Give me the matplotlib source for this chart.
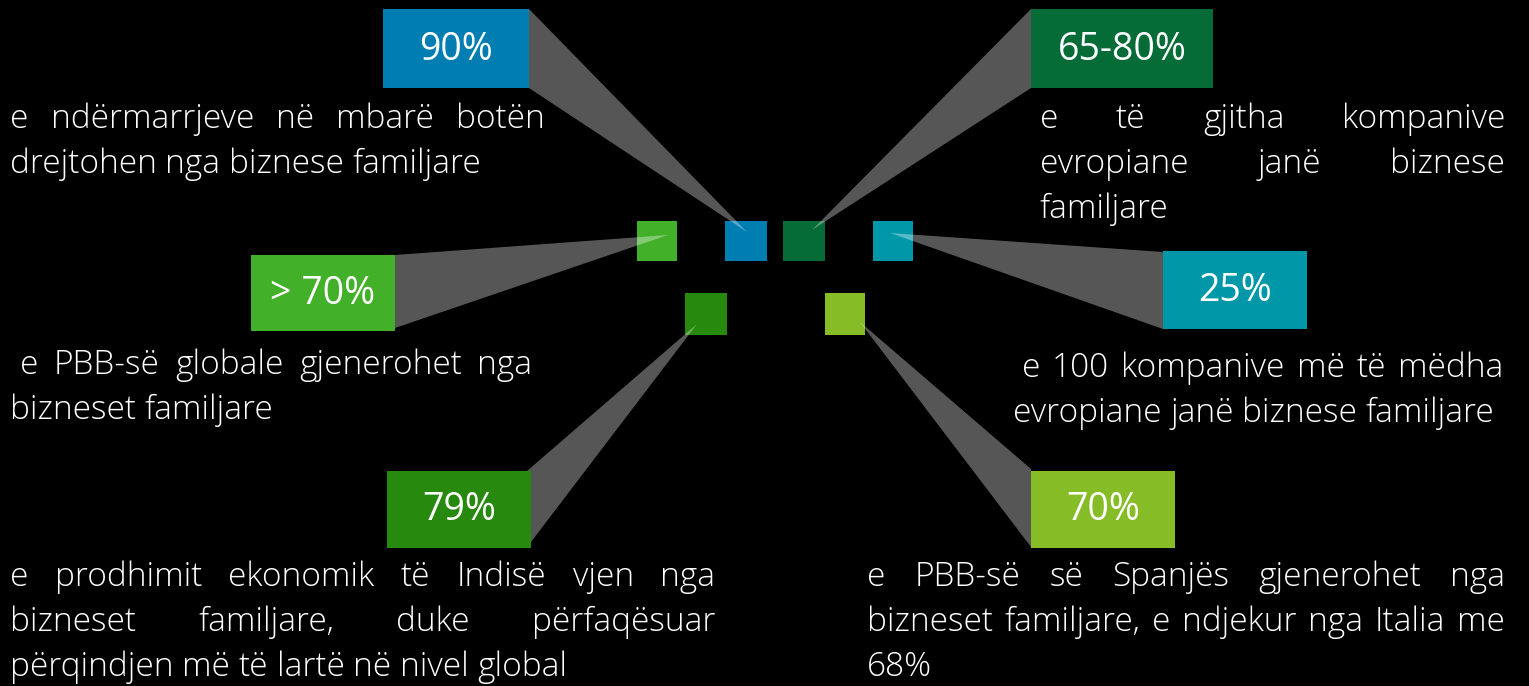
import matplotlib
matplotlib.use("Agg")
import matplotlib.pyplot as plt
from matplotlib.patches import Rectangle, Polygon

W, H = 1529, 686
FONT = ["Open Sans", "DejaVu Sans"]

# --- content ---
labels = ["90%", "65-80%", "> 70%", "25%", "79%", "70%"]
colors = ["#007db1", "#056b37", "#43b02a", "#0098a9", "#27890d", "#86bc25"]
texts = [
    ["e ndërmarrjeve në mbarë botën",
     "drejtohen nga biznese familjare"],
    ["e të gjitha kompanive",
     "evropiane janë biznese",
     "familjare"],
    ["e PBB-së globale gjenerohet nga",
     "bizneset familjare"],
    ["e 100 kompanive më të mëdha",
     "evropiane janë biznese familjare"],
    ["e prodhimit ekonomik të Indisë vjen nga",
     "bizneset familjare, duke përfaqësuar",
     "përqindjen më të lartë në nivel global"],
    ["e PBB-së së Spanjës gjenerohet nga",
     "bizneset familjare, e ndjekur nga Italia me",
     "68%"],
]

# --- layout (pixels, y down) ---
boxes = [(383, 9, 529, 88), (1031, 9, 1213, 88), (251, 255, 395, 331),
         (1163, 251, 1307, 329), (387, 471, 531, 548), (1031, 471, 1175, 548)]
squares = [(725, 221, 767, 261), (783, 221, 825, 261), (637, 221, 677, 261),
           (873, 221, 913, 261), (685, 293, 727, 335), (825, 293, 865, 335)]
wedge_base = [((529, 9), (529, 88)), ((1031, 9), (1031, 88)),
              ((395, 255), (395, 328)), ((1163, 252), (1163, 329)),
              ((527, 471), (531, 542)), ((1031, 469), (1031, 547))]
wedge_tip = [(747, 232), (812, 230), (668, 235), (890, 233), (697, 324), (860, 322)]
# left, right, first-line left, first baseline
para = [(10, 545, 10, 128), (1040, 1505, 1040, 128), (10, 532, 20, 374),
        (1013, 1503, 1022, 377), (10, 715, 10, 586), (867, 1505, 867, 586)]
LINE = 45

fig = plt.figure(figsize=(W / 100, H / 100), dpi=100, facecolor="black")
ax = fig.add_axes([0, 0, 1, 1])
ax.set_xlim(0, W)
ax.set_ylim(H, 0)
ax.axis("off")
ax.set_facecolor("black")
r = fig.canvas.get_renderer()


def width(s, size):
    t = ax.text(0, 0, s, fontsize=size, family=FONT, fontweight="light")
    w = t.get_window_extent(r).width
    t.remove()
    return w


# pick the body size so a known line has the measured width
BODY = 20 * 470 / width("drejtohen nga biznese familjare", 20)


def justify(lines, left, right, first, y0):
    for i, line in enumerate(lines):
        x0 = first if i == 0 else left
        y = y0 + i * LINE
        words = line.split(" ")
        ws = [width(w, BODY) for w in words]
        last = i == len(lines) - 1
        if last or len(words) == 1:
            gap = width("a a", BODY) - 2 * width("a", BODY)
        else:
            gap = (right - x0 - sum(ws)) / (len(words) - 1)
        x = x0
        for w, wd in zip(words, ws):
            ax.text(x, y, w, fontsize=BODY, family=FONT, fontweight="light",
                    color="white", va="baseline", ha="left")
            x += wd + gap


for (x0, y0, x1, y1), c in zip(squares, colors):
    ax.add_patch(Rectangle((x0, y0), x1 - x0, y1 - y0, color=c, lw=0, zorder=1))

for (p, q), tip in zip(wedge_base, wedge_tip):
    ax.add_patch(Polygon([p, q, tip], closed=True, color="white", alpha=0.34,
                         lw=0, zorder=2))

for (x0, y0, x1, y1), c, lab in zip(boxes, colors, labels):
    ax.add_patch(Rectangle((x0, y0), x1 - x0, y1 - y0, color=c, lw=0, zorder=3))
    ax.text((x0 + x1) / 2, (y0 + y1) / 2 + 1, lab, fontsize=27, family=FONT,
            color="white", ha="center", va="center", zorder=4)

for lines, (l, rt, f, y0) in zip(texts, para):
    justify(lines, l, rt, f, y0)

fig.savefig("out.png", dpi=100, facecolor="black")
